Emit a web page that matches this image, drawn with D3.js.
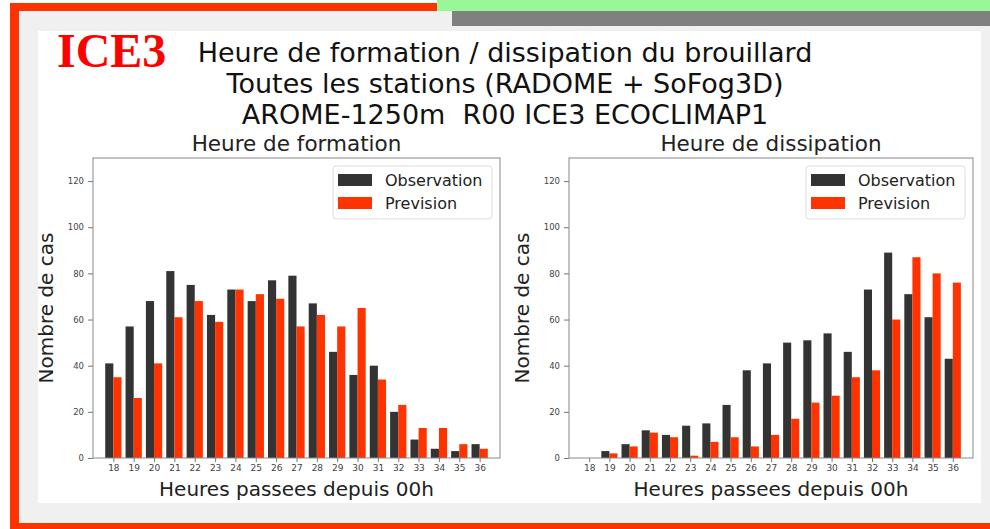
<!DOCTYPE html>
<html>
<head>
<meta charset="utf-8">
<script src="https://cdn.jsdelivr.net/npm/d3@7"></script>
<style>
  body { margin: 0; background: #fff; }
  svg { display: block; font-family: "DejaVu Sans", sans-serif; }
</style>
</head>
<body>
<svg id="chart" width="990" height="529"></svg>
<script>
const hours = [18, 19, 20, 21, 22, 23, 24, 25, 26, 27, 28, 29, 30, 31, 32, 33, 34, 35, 36];

// heure de formation
const formObs  = [41, 57, 68, 81, 75, 62, 73, 68, 77, 79, 67, 46, 36, 40, 20, 8, 4, 3, 6];
const formPrev = [35, 26, 41, 61, 68, 59, 73, 71, 69, 57, 62, 57, 65, 34, 23, 13, 13, 6, 4];

// heure de dissipation
const dissObs  = [0, 3, 6, 12, 10, 14, 15, 23, 38, 41, 50, 51, 54, 46, 73, 89, 71, 61, 43];
const dissPrev = [0, 2, 5, 11, 9, 1, 7, 9, 5, 10, 17, 24, 27, 35, 38, 60, 87, 80, 76];

const yTicks = [0, 20, 40, 60, 80, 100, 120];
const seriesNames = ["Observation", "Prevision"];
const obsColor = "#333333";
const prevColor = "#ff3300";

const svg = d3.select("#chart");

// frame / background decorations
svg.append("rect").attr("x", 10).attr("y", 3).attr("width", 980).attr("height", 526).attr("fill", "#f0f0f0");
svg.append("rect").attr("x", 10).attr("y", 3).attr("width", 9).attr("height", 526).attr("fill", "#ff3300");
svg.append("rect").attr("x", 10).attr("y", 3).attr("width", 427).attr("height", 8).attr("fill", "#ff3300");
svg.append("rect").attr("x", 10).attr("y", 523).attr("width", 980).attr("height", 6).attr("fill", "#ff3300");
svg.append("rect").attr("x", 437).attr("y", 0).attr("width", 553).attr("height", 11).attr("fill", "#98f898");
svg.append("rect").attr("x", 452).attr("y", 11).attr("width", 538).attr("height", 15).attr("fill", "#808080");
svg.append("rect").attr("x", 38).attr("y", 31).attr("width", 943).attr("height", 472).attr("fill", "#ffffff");

svg.append("text")
  .attr("x", 57).attr("y", 67)
  .attr("font-family", "'Liberation Serif', serif")
  .attr("font-weight", "bold")
  .attr("font-size", 48)
  .attr("fill", "#ff0000")
  .text("ICE3");

const titleLines = [
  "Heure de formation / dissipation du brouillard",
  "Toutes les stations (RADOME + SoFog3D)",
  "AROME-1250m  R00 ICE3 ECOCLIMAP1"
];
svg.append("g").selectAll("text")
  .data(titleLines)
  .join("text")
  .attr("x", 505)
  .attr("y", (d, i) => 62 + i * 31)
  .attr("text-anchor", "middle")
  .attr("font-size", 27)
  .attr("fill", "#111")
  .style("white-space", "pre")
  .text(d => d);

function drawPanel(left, right, title, obs, prev) {
  const top = 158, bottom = 458;
  const x = d3.scaleLinear().domain([17, 37]).range([left, right]);
  const y = d3.scaleLinear().domain([0, 130]).range([bottom, top]);
  const bw = x(17.4) - x(17);
  const g = svg.append("g");

  g.append("text")
    .attr("x", (left + right) / 2).attr("y", 151)
    .attr("text-anchor", "middle")
    .attr("font-size", 21.5)
    .attr("fill", "#222")
    .text(title);

  g.append("g").selectAll("rect")
    .data(hours.map((h, i) => ({ h, v: obs[i] })))
    .join("rect")
    .attr("x", d => x(d.h) - bw)
    .attr("y", d => y(d.v))
    .attr("width", bw)
    .attr("height", d => y(0) - y(d.v))
    .attr("fill", obsColor);

  g.append("g").selectAll("rect")
    .data(hours.map((h, i) => ({ h, v: prev[i] })))
    .join("rect")
    .attr("x", d => x(d.h))
    .attr("y", d => y(d.v))
    .attr("width", bw)
    .attr("height", d => y(0) - y(d.v))
    .attr("fill", prevColor);

  const yAxis = g.append("g")
    .attr("transform", `translate(${left},0)`)
    .call(d3.axisLeft(y).tickValues(yTicks).tickSize(5).tickPadding(4));
  yAxis.select(".domain").remove();
  yAxis.selectAll("line").attr("stroke", "#777");
  yAxis.selectAll("text").attr("font-size", 8.5).attr("fill", "#444").attr("font-family", "DejaVu Sans");

  const xAxis = g.append("g")
    .attr("transform", `translate(0,${bottom})`)
    .call(d3.axisBottom(x).tickValues(hours).tickFormat(d3.format("d")).tickSize(4).tickPadding(3));
  xAxis.select(".domain").remove();
  xAxis.selectAll("line").attr("stroke", "#777");
  xAxis.selectAll("text").attr("font-size", 9).attr("fill", "#444").attr("font-family", "DejaVu Sans");

  g.append("rect")
    .attr("x", left).attr("y", top)
    .attr("width", right - left).attr("height", bottom - top)
    .attr("fill", "none").attr("stroke", "#888").attr("stroke-width", 1);

  g.append("text")
    .attr("x", (left + right) / 2).attr("y", 496)
    .attr("text-anchor", "middle")
    .attr("font-size", 20)
    .attr("fill", "#222")
    .text("Heures passees depuis 00h");

  g.append("text")
    .attr("transform", `translate(${left - 40},${(top + bottom) / 2}) rotate(-90)`)
    .attr("text-anchor", "middle")
    .attr("font-size", 20)
    .attr("fill", "#222")
    .text("Nombre de cas");

  // legend
  const lg = g.append("g").attr("transform", `translate(${right - 167},166)`);
  lg.append("rect")
    .attr("width", 159).attr("height", 53).attr("rx", 3)
    .attr("fill", "#fff").attr("stroke", "#ddd");
  lg.selectAll("g.item")
    .data(seriesNames)
    .join("g")
    .attr("class", "item")
    .attr("transform", (d, i) => `translate(5,${8 + i * 23})`)
    .each(function (d, i) {
      const it = d3.select(this);
      it.append("rect").attr("width", 34).attr("height", 12).attr("fill", i === 0 ? obsColor : prevColor);
      it.append("text").attr("x", 47).attr("y", 11.5).attr("font-size", 16).attr("fill", "#222").text(d);
    });
}

drawPanel(93, 500, "Heure de formation", formObs, formPrev);
drawPanel(569, 973, "Heure de dissipation", dissObs, dissPrev);
</script>
</body>
</html>
